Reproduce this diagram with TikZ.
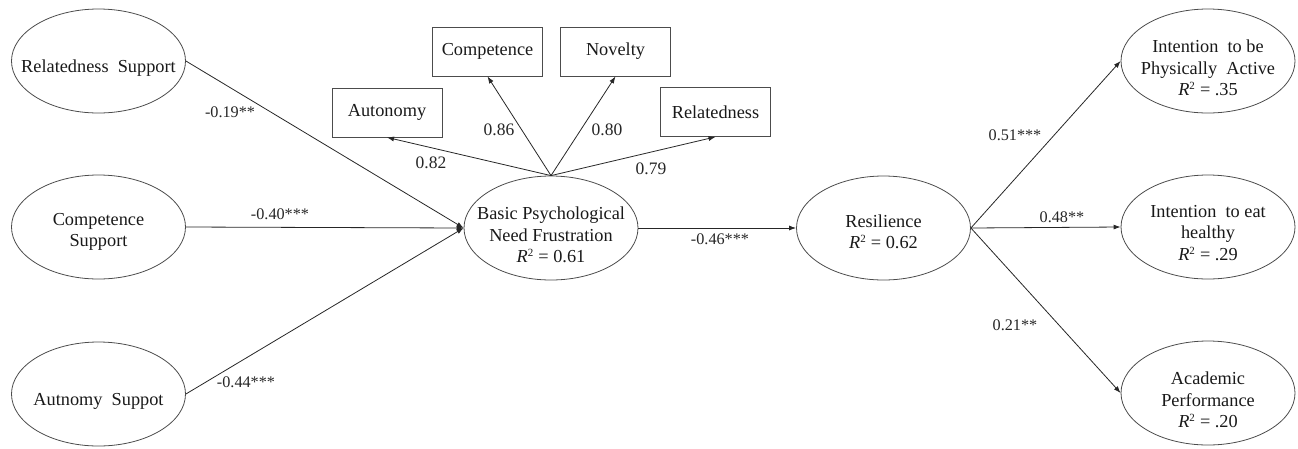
\documentclass[tikz,border=0pt]{standalone}
\usepackage{fontspec}
\setmainfont{Liberation Serif}
\usetikzlibrary{shapes.geometric,arrows.meta}
\newcommand{\Rsq}{\textit{R}\textsuperscript{\fontsize{11}{11}\selectfont 2}}
\begin{document}
\begin{tikzpicture}[x=1pt,y=-1pt,
  lat/.style={ellipse,draw=black!70,line width=0.8pt,minimum width=174pt,minimum height=104pt,inner sep=0pt},
  txt/.style={inner sep=0pt,align=center,font=\fontsize{18.3}{21.5}\selectfont,text=black!90,yshift=-7pt},
  obs/.style={rectangle,draw=black!70,line width=0.8pt,minimum width=110pt,minimum height=49pt,inner sep=0pt,font=\fontsize{18.3}{21.5}\selectfont,text=black!90},
  conn/.style={draw=black!85,line width=0.8pt,-{Latex[length=7pt,width=5pt]}},
  coef/.style={font=\fontsize{16.2}{18}\selectfont,text=black!85,inner sep=0pt},
  load/.style={font=\fontsize{17.5}{21}\selectfont,text=black!85,inner sep=0pt}]
\useasboundingbox (0,0) rectangle (1298,448);
% latent variables
\node[lat,label={[txt]center:{Relatedness\ \ Support}}] (rs) at (98.5,61) {};
\node[lat,label={[txt,yshift=2pt]center:{Competence\\Support}}] (cs) at (98.5,227) {};
\node[lat,label={[txt]center:{Autnomy\ \ Suppot}}] (as) at (98.5,394) {};
\node[lat,label={[txt]center:{Basic Psychological\\Need Frustration\\\Rsq{} = 0.61}}] (bp) at (551,228) {};
\node[lat,label={[txt,yshift=3pt]center:{Resilience\\\Rsq{} = 0.62}}] (re) at (883.5,228) {};
\node[lat,label={[txt]center:{Intention\ \ to be\\Physically\ \ Active\\\Rsq{} = .35}}] (pa) at (1208,61) {};
\node[lat,label={[txt,yshift=1pt]center:{Intention\ \ to eat\\healthy\\\Rsq{} = .29}}] (eh) at (1208,227) {};
\node[lat,label={[txt]center:{Academic\\Performance\\\Rsq{} = .20}}] (ap) at (1208,393) {};
% indicators
\node[obs] (au) at (387,112.5) {Autonomy};
\node[obs] (co) at (487.5,51.5) {Competence};
\node[obs] (no) at (615.5,51.5) {Novelty};
\node[obs] (rl) at (715.5,112) {Relatedness};
% connectors
\draw[conn] (rs.east) -- (bp.west);
\draw[conn] (cs.east) -- (bp.west);
\draw[conn] (as.east) -- (bp.west);
\draw[conn] (bp.north) -- (au.south);
\draw[conn] (bp.north) -- (co.south);
\draw[conn] (bp.north) -- (no.south);
\draw[conn] (bp.north) -- (rl.south);
\draw[conn] (bp.east) -- (re.west);
\draw[conn] (re.east) -- (pa.west);
\draw[conn] (re.east) -- (eh.west);
\draw[conn] (re.east) -- (ap.west);
% labels
\node[coef] (l1) at (230,112) {-0.19**};
\node[coef] (l2) at (280,214) {-0.40***};
\node[coef] (l3) at (246,382) {-0.44***};
\node[load] (l4) at (431,163) {0.82};
\node[load] (l5) at (499,130) {0.86};
\node[load] (l6) at (607,130) {0.80};
\node[load] (l7) at (651,169) {0.79};
\node[coef] (l8) at (720,239) {-0.46***};
\node[coef] (l9) at (1015,135) {0.51***};
\node[coef] (l10) at (1062,217) {0.48**};
\node[coef] (l11) at (1015,325) {0.21**};
\end{tikzpicture}
\end{document}
